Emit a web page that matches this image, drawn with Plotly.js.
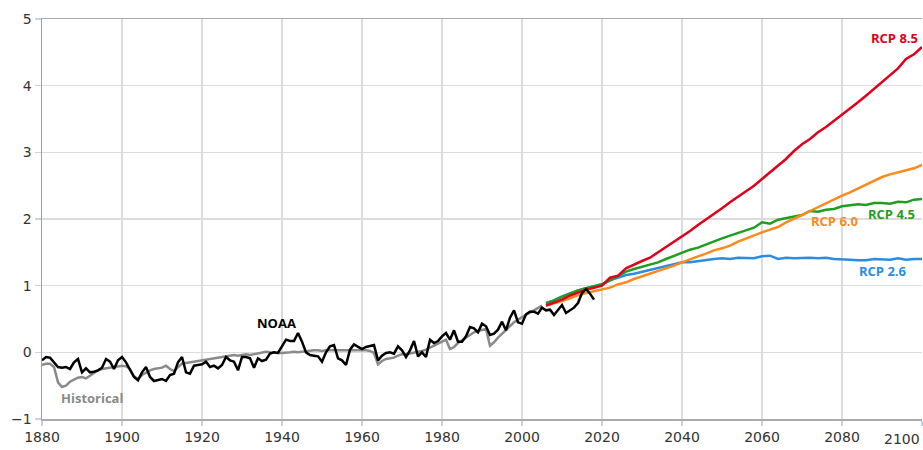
<!DOCTYPE html>
<html>
<head>
<meta charset="utf-8">
<script src="https://cdn.plot.ly/plotly-3.0.1.min.js"></script>
<style>
  html, body { margin: 0; padding: 0; background: #fff; }
  #chart { width: 923px; height: 450px; }
</style>
</head>
<body>
<div id="chart"></div>
<script>
// ---- Data ----
const noaaStart = 1880;
const noaaValues = [
  -0.12,-0.07,-0.08,-0.15,-0.22,-0.23,-0.22,-0.25,-0.15,-0.10,
  -0.30,-0.24,-0.30,-0.29,-0.27,-0.23,-0.10,-0.14,-0.25,-0.12,
  -0.07,-0.15,-0.25,-0.37,-0.42,-0.30,-0.22,-0.37,-0.43,-0.42,
  -0.40,-0.43,-0.34,-0.32,-0.15,-0.07,-0.30,-0.32,-0.20,-0.19,
  -0.18,-0.14,-0.22,-0.20,-0.24,-0.19,-0.07,-0.12,-0.14,-0.27,
  -0.07,-0.07,-0.09,-0.23,-0.09,-0.13,-0.11,-0.02,0.00,-0.01,
  0.10,0.19,0.17,0.17,0.29,0.16,0.00,-0.04,-0.05,-0.06,
  -0.14,0.00,0.09,0.11,-0.09,-0.12,-0.19,0.04,0.12,0.08,
  0.05,0.08,0.10,0.11,-0.12,-0.05,-0.01,0.00,-0.02,0.09,
  0.03,-0.07,0.03,0.17,-0.06,0.00,-0.07,0.19,0.14,0.17,
  0.24,0.29,0.19,0.33,0.16,0.16,0.24,0.38,0.36,0.30,
  0.43,0.39,0.26,0.28,0.34,0.46,0.33,0.52,0.63,0.45,
  0.43,0.57,0.61,0.61,0.58,0.67,0.63,0.64,0.56,0.64,
  0.71,0.59,0.63,0.67,0.74,0.89,0.95,0.88,0.79
];

const histStart = 1880;
const histValues = [
  -0.19,-0.17,-0.17,-0.22,-0.45,-0.52,-0.50,-0.44,-0.41,-0.38,
  -0.37,-0.39,-0.35,-0.31,-0.27,-0.25,-0.24,-0.24,-0.22,-0.21,
  -0.20,-0.21,-0.25,-0.36,-0.40,-0.34,-0.30,-0.27,-0.25,-0.24,
  -0.23,-0.20,-0.25,-0.28,-0.22,-0.17,-0.16,-0.15,-0.14,-0.12,
  -0.11,-0.10,-0.09,-0.08,-0.07,-0.06,-0.05,-0.05,-0.04,-0.05,
  -0.04,-0.03,-0.04,-0.03,-0.02,-0.01,0.01,0.00,-0.01,-0.01,
  -0.01,-0.01,0.00,0.01,0.00,0.01,0.02,0.02,0.03,0.03,
  0.02,0.03,0.03,0.03,0.04,0.03,0.04,0.03,0.03,0.03,
  0.03,0.03,0.02,-0.01,-0.18,-0.13,-0.10,-0.09,-0.08,-0.05,
  -0.03,-0.03,-0.02,0.00,0.01,0.02,0.04,0.07,0.10,0.13,
  0.16,0.19,0.05,0.08,0.14,0.18,0.23,0.27,0.30,0.32,
  0.34,0.35,0.10,0.15,0.22,0.28,0.33,0.39,0.45,0.49,
  0.53,0.57,0.60,0.63,0.66,0.70
];

const rcpStart = 2006;
const rcpStep = 2;
const rcp26 = [
  0.74,0.78,0.84,0.89,0.93,0.96,0.99,1.02,1.08,1.12,
  1.16,1.18,1.21,1.23,1.26,1.29,1.33,1.35,1.35,1.37,
  1.39,1.40,1.41,1.40,1.42,1.42,1.41,1.44,1.45,1.40,
  1.42,1.41,1.42,1.42,1.41,1.42,1.40,1.40,1.39,1.38,
  1.38,1.40,1.40,1.39,1.41,1.39,1.40,1.40
];
const rcp45 = [
  0.73,0.78,0.83,0.88,0.93,0.96,0.99,1.02,1.08,1.15,
  1.21,1.25,1.28,1.31,1.35,1.40,1.45,1.50,1.54,1.57,
  1.62,1.67,1.71,1.75,1.79,1.83,1.87,1.95,1.93,1.99,
  2.01,2.04,2.06,2.12,2.11,2.14,2.15,2.19,2.20,2.22,
  2.21,2.24,2.24,2.23,2.26,2.25,2.29,2.30
];
const rcp60 = [
  0.70,0.73,0.77,0.81,0.86,0.89,0.92,0.95,0.97,1.02,
  1.05,1.10,1.14,1.17,1.22,1.26,1.30,1.35,1.40,1.44,
  1.48,1.53,1.56,1.60,1.66,1.71,1.75,1.80,1.84,1.88,
  1.95,2.00,2.06,2.12,2.18,2.23,2.29,2.35,2.40,2.46,
  2.52,2.57,2.63,2.67,2.70,2.73,2.76,2.81
];
const rcp85 = [
  0.70,0.74,0.79,0.85,0.90,0.94,0.97,1.00,1.12,1.15,
  1.26,1.32,1.37,1.42,1.50,1.57,1.65,1.74,1.82,1.91,
  1.99,2.07,2.16,2.25,2.33,2.41,2.50,2.60,2.70,2.80,
  2.90,3.02,3.12,3.20,3.30,3.38,3.47,3.56,3.65,3.75,
  3.85,3.95,4.05,4.15,4.26,4.40,4.47,4.58
];

const xTickVals = [1880,1900,1920,1940,1960,1980,2000,2020,2040,2060,2080,2100];
const xTickText = ['1880','1900','1920','1940','1960','1980','2000','2020','2040','2060','2080',''];
const yTickVals = [-1,0,1,2,3,4,5];

const seriesLabels = [
  {text:'RCP 8.5', color:'#e0001b', x:2099.6, y:4.71, anchor:'right'},
  {text:'RCP 4.5', color:'#1f9e1f', x:2098.8, y:2.07, anchor:'right'},
  {text:'RCP 6.0', color:'#fb8a1c', x:2084.6, y:1.97, anchor:'right'},
  {text:'RCP 2.6', color:'#2b8ce0', x:2096.8, y:1.22, anchor:'right'},
  {text:'NOAA', color:'#000000', x:1938.6, y:0.44, anchor:'center'},
  {text:'Historical', color:'#8a8a8a', x:1892.5, y:-0.68, anchor:'center'}
];

// ---- Build traces ----
function yearsFrom(start, n, step) {
  const out = [];
  for (let i = 0; i < n; i++) out.push(start + i * (step || 1));
  return out;
}

function lineTrace(x, y, color, name) {
  return {x: x, y: y, type: 'scatter', mode: 'lines', name: name,
          line: {color: color, width: 2.5}, hoverinfo: 'skip'};
}

const rcpYears = yearsFrom(rcpStart, rcp85.length, rcpStep);
const traces = [
  lineTrace(yearsFrom(histStart, histValues.length), histValues, '#8a8a8a', 'Historical'),
  lineTrace(rcpYears, rcp26, '#2b8ce0', 'RCP 2.6'),
  lineTrace(rcpYears, rcp45, '#1f9e1f', 'RCP 4.5'),
  lineTrace(rcpYears, rcp60, '#fb8a1c', 'RCP 6.0'),
  lineTrace(rcpYears, rcp85, '#e0001b', 'RCP 8.5'),
  lineTrace(yearsFrom(noaaStart, noaaValues.length), noaaValues, '#000000', 'NOAA')
];

const annotations = seriesLabels.map(l => ({
  text: '<b>' + l.text + '</b>', x: l.x, y: l.y, xref: 'x', yref: 'y',
  xanchor: l.anchor, yanchor: 'middle', showarrow: false,
  font: {family: 'Open Sans, sans-serif', size: 13, color: l.color}
}));
annotations.push({
  text: '2100', x: 2100, y: 0, xref: 'x', yref: 'paper',
  xanchor: 'right', yanchor: 'top', yshift: -10, showarrow: false,
  font: {family: 'DejaVu Sans, sans-serif', size: 14, color: '#333333'}
});

const layout = {
  width: 923, height: 450,
  margin: {l: 42, r: 1, t: 19, b: 31, pad: 0},
  paper_bgcolor: '#ffffff', plot_bgcolor: '#ffffff',
  showlegend: false,
  font: {family: 'DejaVu Sans, sans-serif', size: 14, color: '#333333'},
  xaxis: {
    range: [1880, 2100], tickmode: 'array', tickvals: xTickVals, ticktext: xTickText,
    showgrid: true, gridcolor: '#dcdcdc', gridwidth: 1.3,
    showline: true, linecolor: '#aaaaaa', linewidth: 1.5, mirror: true,
    ticks: 'outside', ticklen: 5, tickcolor: '#c8d0e2', tickwidth: 1.3,
    zeroline: false, fixedrange: true,
    tickfont: {family: 'DejaVu Sans, sans-serif', size: 14, color: '#333333'}
  },
  yaxis: {
    range: [-1, 5], tickmode: 'array', tickvals: yTickVals,
    showgrid: true, gridcolor: '#dcdcdc', gridwidth: 1.3,
    showline: true, linecolor: '#a0a0a0', linewidth: 1.5,
    ticks: 'outside', ticklen: 6, tickcolor: '#c8d0e2', tickwidth: 1.3,
    zeroline: false, fixedrange: true,
    tickfont: {family: 'DejaVu Sans, sans-serif', size: 14, color: '#333333'}
  },
  annotations: annotations
};

Plotly.newPlot('chart', traces, layout, {displayModeBar: false, staticPlot: true});
</script>
</body>
</html>
